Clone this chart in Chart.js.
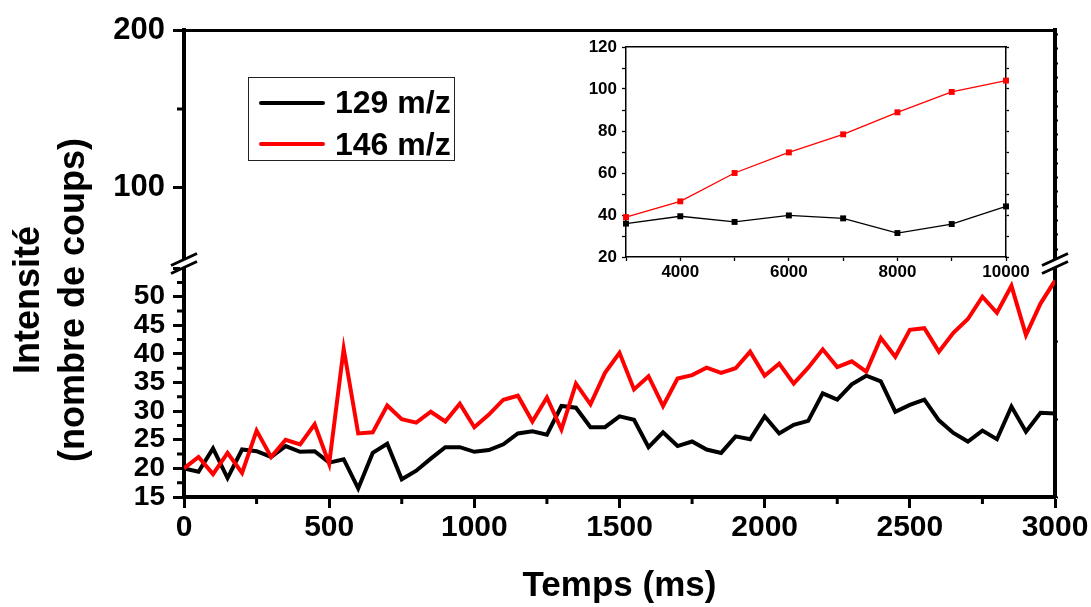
<!DOCTYPE html>
<html>
<head>
<meta charset="utf-8">
<script src="https://cdn.jsdelivr.net/npm/chart.js@4.4.1/dist/chart.umd.min.js"></script>
<style>
  html, body { margin: 0; padding: 0; background: #fff; }
  #wrap { position: relative; width: 1091px; height: 607px; font-family: Arial, "Liberation Sans", sans-serif; }
  #main { position: absolute; left: 0; top: 0; }
  #inset { position: absolute; left: 560px; top: 30px; }
  #ytitle {
    position: absolute; left: -150px; top: 254px; width: 400px; height: 92px;
    transform: rotate(-90deg); text-align: center; font-weight: bold;
    font-size: 36px; line-height: 45px; white-space: nowrap; color: #000;
  }
  #legend {
    position: absolute; left: 248px; top: 77px; width: 207px; height: 84px;
    box-sizing: border-box; border: 1px solid #222; background: #fff;
  }
  .row { position: absolute; left: 10px; height: 40px; display: flex; align-items: center; }
  .trait { width: 66px; height: 4px; border-radius: 2px; }
  .nom { margin-left: 10px; font-size: 32px; font-weight: bold; color: #000; }
</style>
</head>
<body>
<div id="wrap">
  <canvas id="main" width="1091" height="607"></canvas>
  <canvas id="inset" width="490" height="255"></canvas>
  <div id="legend"></div>
  <div id="ytitle">Intensité<br>(nombre de coups)</div>
</div>
<script>
// donnees
const etiquettes = ['129 m/z', '146 m/z'];
const couleurs = ['#000000', '#ff0000'];

const temps = [0, 50, 100, 150, 200, 250, 300, 350, 400, 450, 500, 550, 600, 650, 700, 750,
  800, 850, 900, 950, 1000, 1050, 1100, 1150, 1200, 1250, 1300, 1350, 1400, 1450, 1500,
  1550, 1600, 1650, 1700, 1750, 1800, 1850, 1900, 1950, 2000, 2050, 2100, 2150, 2200,
  2250, 2300, 2350, 2400, 2450, 2500, 2550, 2600, 2650, 2700, 2750, 2800, 2850, 2900,
  2950, 3000];

const signal129 = [20.0, 19.4, 23.5, 18.3, 23.3, 23.0, 22.0, 23.9, 22.9, 23.0, 21.0, 21.6,
  16.5, 22.7, 24.3, 18.1, 19.6, 21.7, 23.7, 23.7, 22.9, 23.2, 24.2, 26.1, 26.5, 25.9,
  30.9, 30.6, 27.2, 27.2, 29.1, 28.5, 23.7, 26.3, 23.9, 24.7, 23.3, 22.7, 25.6, 25.1,
  29.1, 26.1, 27.6, 28.3, 33.1, 32.0, 34.7, 36.2, 35.2, 29.9, 31.1, 32.0, 28.4, 26.2,
  24.7, 26.6, 25.1, 30.8, 26.4, 29.7, 29.6];

const signal146 = [20.0, 22.0, 19.0, 22.7, 19.2, 26.6, 22.0, 25.0, 24.2, 27.7, 20.8, 40.9,
  26.1, 26.3, 31.0, 28.6, 28.0, 29.9, 28.2, 31.3, 27.2, 29.4, 32.0, 32.7, 28.2, 32.4,
  26.8, 34.8, 31.2, 36.7, 40.2, 33.8, 36.1, 30.9, 35.7, 36.3, 37.6, 36.7, 37.5, 40.4,
  36.2, 38.3, 34.8, 37.6, 40.8, 37.7, 38.7, 36.9, 42.8, 39.5, 44.2, 44.5, 40.4, 43.7,
  46.1, 50.0, 47.2, 51.9, 43.3, 48.8, 52.8];

// encart
const tempsLong = [3000, 4000, 5000, 6000, 7000, 8000, 9000, 10000];
const long129 = [35.9, 39.4, 36.7, 39.8, 38.4, 31.4, 35.7, 44.1];
const long146 = [39.0, 46.5, 60.0, 69.8, 78.4, 88.9, 98.6, 104.0];

Chart.defaults.font.family = 'Arial, "Liberation Sans", sans-serif';
Chart.defaults.color = '#000';

function points(xs, ys) {
  return xs.map((t, i) => ({x: t, y: ys[i]}));
}

// legende html
const legende = document.getElementById('legend');
etiquettes.forEach((e, i) => {
  const r = document.createElement('div');
  r.className = 'row';
  r.style.top = (i === 0 ? 4.7 : 46) + 'px';
  r.innerHTML = '<span class="trait" style="background:' + couleurs[i] + '"></span><span class="nom">' + e + '</span>';
  legende.appendChild(r);
});

const grille = (long, larg) => ({drawOnChartArea: false, drawTicks: true, tickLength: long, tickWidth: larg, tickColor: '#000'});

// petites graduations + coupure de l'axe
const decor = {
  id: 'decor',
  afterDraw(chart) {
    const ctx = chart.ctx, a = chart.chartArea;
    const sx = chart.scales.x, sy = chart.scales.y, sy2 = chart.scales.y2;
    ctx.save();
    ctx.strokeStyle = '#000';
    ctx.lineWidth = 3;
    ctx.beginPath();
    for (let v = sx.min + 250; v < sx.max; v += 500) {
      const px = sx.getPixelForValue(v);
      ctx.moveTo(px, a.bottom); ctx.lineTo(px, a.bottom + 7);
    }
    for (let v = sy.min + 2.5; v < sy.max; v += 5) {
      const py = sy.getPixelForValue(v);
      ctx.moveTo(a.left, py); ctx.lineTo(a.left - 7, py);
    }
    for (let v = 150; v < sy2.max; v += 100) {
      const py = sy2.getPixelForValue(v);
      ctx.moveTo(a.left, py); ctx.lineTo(a.left - 7, py);
    }
    ctx.stroke();

    const yb = sy.top;
    [a.left, a.right].forEach(xb => {
      ctx.fillStyle = '#fff';
      ctx.beginPath();
      ctx.moveTo(xb - 4, yb + 1.8 - 4);
      ctx.lineTo(xb + 4, yb - 1.8 - 4);
      ctx.lineTo(xb + 4, yb - 1.8 + 4);
      ctx.lineTo(xb - 4, yb + 1.8 + 4);
      ctx.closePath();
      ctx.fill();
      ctx.beginPath();
      ctx.moveTo(xb - 13, yb + 6 - 4); ctx.lineTo(xb + 13, yb - 6 - 4);
      ctx.moveTo(xb - 13, yb + 6 + 4); ctx.lineTo(xb + 13, yb - 6 + 4);
      ctx.stroke();
    });
    ctx.restore();
  }
};

const principal = new Chart(document.getElementById('main'), {
  type: 'line',
  data: {
    datasets: [
      {label: etiquettes[0], data: points(temps, signal129), borderColor: couleurs[0], borderWidth: 4,
        pointRadius: 0, order: 1, yAxisID: 'y'},
      {label: etiquettes[1], data: points(temps, signal146), borderColor: couleurs[1], borderWidth: 4,
        pointRadius: 0, order: 0, yAxisID: 'y'}
    ]
  },
  options: {
    responsive: false,
    animation: false,
    layout: {padding: {top: 30, left: 0, right: 0, bottom: 0}},
    plugins: {legend: {display: false}, tooltip: {enabled: false}},
    scales: {
      x: {
        type: 'linear', position: 'bottom', min: 0, max: 3000,
        ticks: {stepSize: 500, autoSkip: false, padding: 2, maxRotation: 0,
          callback: v => String(v), font: {size: 30, weight: 'bold'}},
        grid: grille(11, 3),
        border: {width: 4, color: '#000'},
        title: {display: true, text: 'Temps (ms)', font: {size: 35, weight: 'bold'}, padding: {top: 0, bottom: 0}},
        afterFit: s => { s.height = 110; }
      },
      x2: {
        type: 'linear', position: 'top', min: 0, max: 3000,
        ticks: {display: false},
        grid: {drawOnChartArea: false, drawTicks: false},
        border: {width: 3, color: '#000'}
      },
      y: {
        type: 'linear', position: 'left', stack: 'gauche', stackWeight: 1, min: 15, max: 55.8,
        ticks: {stepSize: 5, includeBounds: false, autoSkip: false, padding: 8,
          callback: v => (v <= 50 ? String(v) : ''), font: {size: 28, weight: 'bold'}},
        grid: grille(11, 3),
        border: {width: 4, color: '#000'},
        afterFit: s => { s.width = 184; }
      },
      y2: {
        type: 'linear', position: 'left', stack: 'gauche', stackWeight: 1, min: 52, max: 200,
        ticks: {stepSize: 100, includeBounds: false, autoSkip: false, padding: 8,
          callback: v => String(v), font: {size: 31, weight: 'bold'}},
        grid: grille(11, 3),
        border: {width: 4, color: '#000'},
        afterFit: s => { s.width = 184; }
      },
      y3: {
        type: 'linear', position: 'right', stack: 'droite', stackWeight: 1, min: 15, max: 55.8,
        ticks: {display: false, stepSize: 2.5, includeBounds: false, autoSkip: false},
        grid: grille(3, 2),
        border: {width: 4, color: '#000'},
        afterFit: s => { s.width = 36; }
      },
      y4: {
        type: 'linear', position: 'right', stack: 'droite', stackWeight: 1, min: 52, max: 200,
        ticks: {display: false, stepSize: 50, includeBounds: false, autoSkip: false},
        grid: grille(3, 2),
        border: {width: 4, color: '#000'},
        afterFit: s => { s.width = 36; }
      }
    }
  },
  plugins: [decor]
});

const encart = new Chart(document.getElementById('inset'), {
  type: 'line',
  data: {
    datasets: [
      {label: etiquettes[0], data: points(tempsLong, long129), borderColor: couleurs[0], backgroundColor: couleurs[0],
        borderWidth: 1.3, pointStyle: 'rect', pointRadius: 4.2, pointBorderWidth: 0, clip: false, order: 1},
      {label: etiquettes[1], data: points(tempsLong, long146), borderColor: couleurs[1], backgroundColor: couleurs[1],
        borderWidth: 1.3, pointStyle: 'rect', pointRadius: 4.2, pointBorderWidth: 0, clip: false, order: 0}
    ]
  },
  options: {
    responsive: false,
    animation: false,
    layout: {padding: {top: 17, left: 0, right: 0, bottom: 0}},
    plugins: {legend: {display: false}, tooltip: {enabled: false}},
    scales: {
      x: {
        type: 'linear', min: 3000, max: 10000,
        ticks: {stepSize: 1000, autoSkip: false, maxRotation: 0, padding: 1,
          callback: v => (v % 2000 === 0 ? String(v) : ''), font: {size: 17, weight: 'bold'}},
        grid: grille(4, 1.3),
        border: {width: 1.5, color: '#000'},
        afterFit: s => { s.height = 28; }
      },
      x2: {
        type: 'linear', position: 'top', min: 3000, max: 10000,
        ticks: {display: false},
        grid: {drawOnChartArea: false, drawTicks: false},
        border: {width: 1.5, color: '#000'}
      },
      y: {
        type: 'linear', min: 20, max: 120,
        ticks: {stepSize: 10, autoSkip: false, padding: 5,
          callback: v => (v % 20 === 0 ? String(v) : ''), font: {size: 17, weight: 'bold'}},
        grid: grille(4, 1.3),
        border: {width: 1.5, color: '#000'},
        afterFit: s => { s.width = 66; }
      },
      y2: {
        type: 'linear', position: 'right', min: 20, max: 120,
        ticks: {display: false, stepSize: 10, autoSkip: false},
        grid: grille(3, 1.3),
        border: {width: 1.5, color: '#000'},
        afterFit: s => { s.width = 44; }
      }
    }
  }
});
</script>
</body>
</html>
